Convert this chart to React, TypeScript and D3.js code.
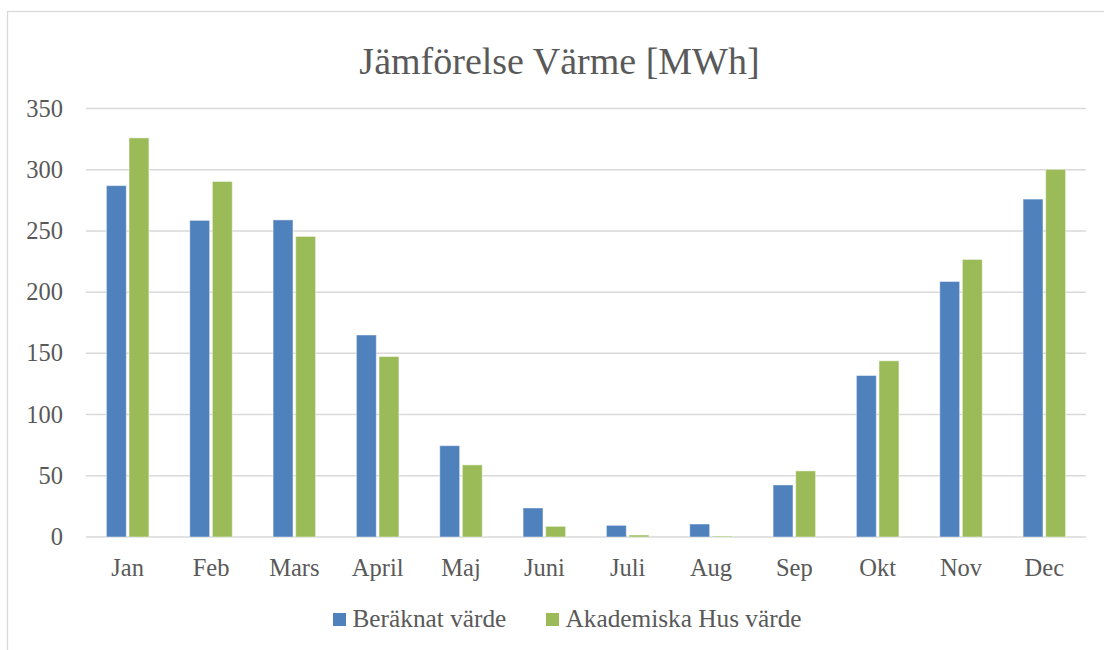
import React from "react";
import * as d3 from "d3";

const title = "Jämförelse Värme [MWh]";
const months = ["Jan", "Feb", "Mars", "April", "Maj", "Juni", "Juli", "Aug", "Sep", "Okt", "Nov", "Dec"];
const seriesNames = ["Beräknat värde", "Akademiska Hus värde"];
const beraknat = [287, 258.6, 259, 165, 74.6, 23.7, 9.5, 10.6, 42.5, 131.9, 208.7, 276];
const akademiska = [326, 290.4, 245.5, 147.4, 58.9, 8.7, 1.6, 0.8, 54, 143.9, 226.7, 300.3];
const yTicks = [0, 50, 100, 150, 200, 250, 300, 350];
const colors = ["#4F81BD", "#9BBB59"];

const W = 1104;
const H = 650;
const FONT = "'Liberation Serif', 'Times New Roman', serif";
const TEXT = "#595959";

export default function App() {
  const x = d3.scaleBand<string>().domain(months).range([86, 1086]).padding(0);
  const step = x.bandwidth();
  const groupW = step * 0.51;
  const xs = d3
    .scaleBand<number>()
    .domain([0, 1])
    .range([step / 2 - groupW / 2, step / 2 + groupW / 2])
    .paddingInner(0.12);
  const y = d3.scaleLinear().domain([0, 350]).range([537, 108.5]);
  const series = [beraknat, akademiska];

  return (
    <div style={{ position: "absolute", left: 0, top: 0 }}>
      <svg width={W} height={H} style={{ display: "block", background: "#fff" }}>
        <rect x={7.5} y={11.5} width={1300} height={1000} fill="#fff" stroke="#d9d9d9" strokeWidth={1.3} />
        <text x={559.5} y={74} textAnchor="middle" fontFamily={FONT} fontSize={38} fill={TEXT}>
          {title}
        </text>
        {yTicks.map((t) => (
          <g key={t}>
            <line x1={86} x2={1086} y1={y(t)} y2={y(t)} stroke="#d9d9d9" strokeWidth={1.5} />
            <text x={63} y={y(t) + 8} textAnchor="end" fontFamily={FONT} fontSize={24.5} fill={TEXT}>
              {t}
            </text>
          </g>
        ))}
        {series.map((vals, si) =>
          vals.map((v, i) => (
            <rect
              key={`${si}-${i}`}
              x={(x(months[i]) as number) + (xs(si) as number)}
              y={y(v)}
              width={xs.bandwidth()}
              height={y(0) - y(v)}
              fill={colors[si]}
              stroke="#ffffff"
              strokeOpacity={0.45}
              strokeWidth={1}
            />
          ))
        )}
        {months.map((m) => (
          <text
            key={m}
            x={(x(m) as number) + step / 2}
            y={576}
            textAnchor="middle"
            fontFamily={FONT}
            fontSize={24.5}
            fill={TEXT}
          >
            {m}
          </text>
        ))}
        {seriesNames.map((n, i) => {
          const lx = [333, 546][i];
          return (
            <g key={n}>
              <rect x={lx} y={613} width={13} height={13} fill={colors[i]} />
              <text x={lx + 19.5} y={627} fontFamily={FONT} fontSize={25.3} fill={TEXT}>
                {n}
              </text>
            </g>
          );
        })}
      </svg>
    </div>
  );
}
